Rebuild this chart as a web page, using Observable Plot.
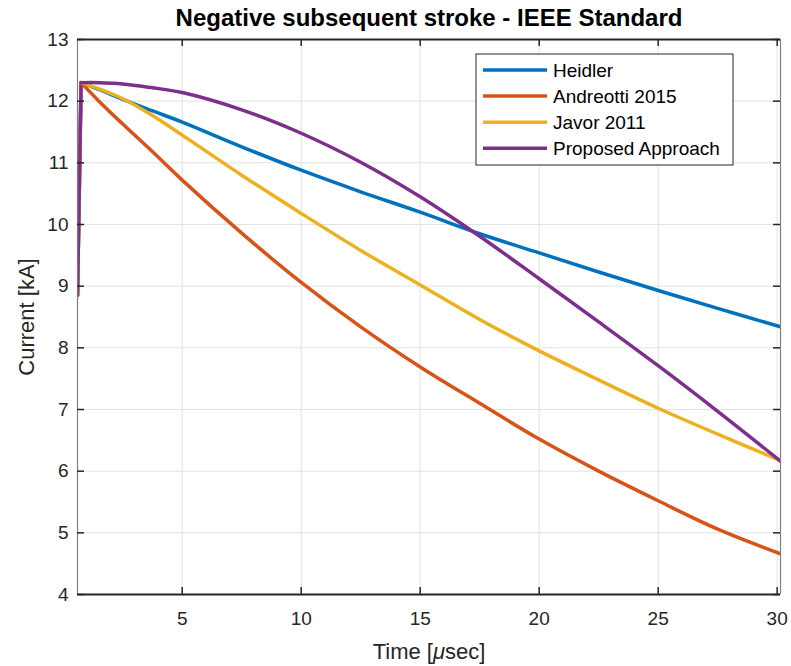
<!DOCTYPE html>
<html><head><meta charset="utf-8">
<script src="https://cdn.jsdelivr.net/npm/d3@7"></script>
<script src="https://cdn.jsdelivr.net/npm/@observablehq/plot@0.6"></script>
<style>body{margin:0;background:#fff;}</style>
</head><body><div id="chart"></div>
<script>
const titleText = "Negative subsequent stroke - IEEE Standard";
const xLabel = "Time [μsec]";
const yLabel = "Current [kA]";
const seriesNames = ["Heidler", "Andreotti 2015", "Javor 2011", "Proposed Approach"];
const seriesColors = ["#0072BD", "#D95319", "#EDB120", "#7E2F8E"];
const xTicks = [5, 10, 15, 20, 25, 30];
const yTicks = [4, 5, 6, 7, 8, 9, 10, 11, 12, 13];

const time      = [0.6, 0.75, 1.5, 2.5, 3.7, 5, 7.5, 10, 12.5, 15, 17.5, 20, 22.5, 25, 27.5, 30.15];
const heidler   = [8.85, 12.3, 12.19, 12.03, 11.85, 11.66, 11.26, 10.88, 10.53, 10.2, 9.85, 9.54, 9.23, 8.93, 8.64, 8.34];
const andreotti = [8.85, 12.3, 12.0, 11.63, 11.2, 10.72, 9.86, 9.06, 8.34, 7.69, 7.1, 6.52, 6.0, 5.52, 5.06, 4.66];
const javor     = [8.85, 12.3, 12.2, 12.04, 11.78, 11.45, 10.8, 10.18, 9.58, 9.02, 8.46, 7.95, 7.48, 7.02, 6.6, 6.17];
const proposed  = [8.85, 12.3, 12.3, 12.28, 12.22, 12.14, 11.86, 11.48, 11.01, 10.45, 9.81, 9.12, 8.42, 7.71, 6.97, 6.16];

const seriesValues = [heidler, andreotti, javor, proposed];
const rows = seriesNames.flatMap((name, k) => time.map((t, i) => ({name, t, v: seriesValues[k][i], i})));
const riseRows = rows.filter(d => d.i <= 1);
const decayRows = rows.filter(d => d.i >= 1);

const font = 'Arial, "Liberation Sans", Helvetica, sans-serif';
const ink = "#262626";
const W = 791, H = 666, mT = 39, mB = 72, mL = 77, mR = 11;
const fw = W - mL - mR, fh = H - mT - mB;
const tk = 7;

const plot = Plot.plot({
  width: W, height: H, marginTop: mT, marginBottom: mB, marginLeft: mL, marginRight: mR,
  style: {fontFamily: font, background: "#fff", color: ink, overflow: "visible"},
  x: {domain: [0.6, 30.14]},
  y: {domain: [4, 13]},
  color: {domain: seriesNames, range: seriesColors},
  marks: [
    Plot.ruleX(xTicks, {stroke: "#e2e2e2", strokeWidth: 1}),
    Plot.ruleY(yTicks, {stroke: "#e2e2e2", strokeWidth: 1}),
    Plot.line(riseRows, {x: "t", y: "v", z: "name", stroke: "name", strokeWidth: 3.5, clip: true}),
    Plot.line(decayRows, {x: "t", y: "v", z: "name", stroke: "name", strokeWidth: 3.5, curve: "catmull-rom", clip: true}),
    Plot.ruleX([0.6, 30.14], {stroke: "#808080", strokeWidth: 1.2}),
    Plot.ruleY([4, 13], {stroke: ink, strokeWidth: 2}),
    Plot.ruleX(xTicks, {stroke: ink, strokeWidth: 1.5, insetTop: fh - tk}),
    Plot.ruleX(xTicks, {stroke: ink, strokeWidth: 1.5, insetBottom: fh - tk}),
    Plot.ruleY(yTicks, {stroke: ink, strokeWidth: 1.5, insetRight: fw - tk}),
    Plot.ruleY(yTicks, {stroke: ink, strokeWidth: 1.5, insetLeft: fw - tk}),
    Plot.axisX(xTicks, {tickSize: 0, tickPadding: 17, fontSize: 19, label: null, fill: ink, tickFormat: d3.format("d")}),
    Plot.axisY(yTicks, {tickSize: 0, tickPadding: 9, fontSize: 19, label: null, fill: ink, tickFormat: d3.format("d")}),
    Plot.text([titleText], {text: d => d, frameAnchor: "top", dy: -14, lineAnchor: "bottom", fontSize: 24, fontWeight: "bold", fill: "#000"}),
    Plot.text([xLabel], {text: d => d, frameAnchor: "bottom", dy: 64, lineAnchor: "bottom", fontSize: 22, fill: ink}),
    Plot.text([yLabel], {text: d => d, frameAnchor: "left", textAnchor: "middle", dx: -51, rotate: -90, fontSize: 22, fill: ink})
  ]
});

document.getElementById("chart").appendChild(plot);

// italic mu in x label
d3.select(plot).selectAll("text").each(function() {
  if (this.textContent === xLabel) {
    const parts = xLabel.split("μ");
    const sel = d3.select(this);
    sel.text(null);
    sel.append("tspan").text(parts[0]);
    sel.append("tspan").attr("font-style", "italic").text("μ");
    sel.append("tspan").text(parts[1]);
  }
});

// legend
const lg = d3.select(plot).append("g").attr("transform", "translate(476,54)")
  .attr("font-family", font).attr("text-anchor", "start");
lg.append("rect").attr("width", 257).attr("height", 111).attr("fill", "#fff").attr("stroke", ink).attr("stroke-width", 1);
seriesNames.forEach((n, i) => {
  const y = 16 + i * 26.1;
  lg.append("line").attr("x1", 7).attr("x2", 71).attr("y1", y).attr("y2", y)
    .attr("stroke", seriesColors[i]).attr("stroke-width", 3.5);
  lg.append("text").attr("x", 77).attr("y", y).attr("dy", "0.35em").attr("font-size", 19)
    .attr("text-anchor", "start").attr("fill", "#000").text(n);
});
</script>
</body></html>
